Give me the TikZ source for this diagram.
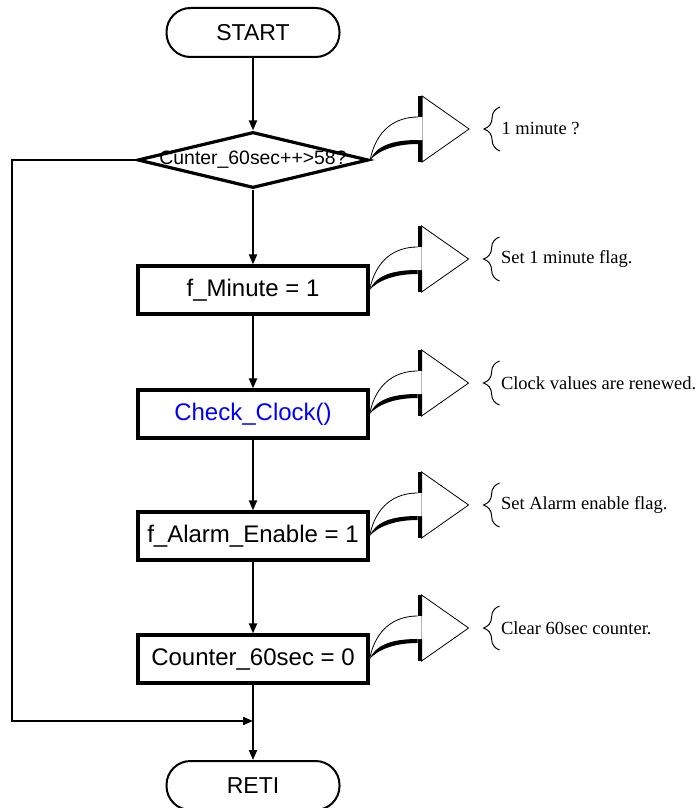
\documentclass[tikz,border=0pt]{standalone}
\usepackage{fontspec}
\setmainfont{Liberation Serif}
\newfontfamily\boxfont{Liberation Sans}
\usetikzlibrary{shapes.geometric}
\usetikzlibrary{decorations.pathreplacing}
\usetikzlibrary{arrows.meta}

% bent 3D arrow from a box edge to a braced comment
\newcommand{\bentarrow}[3]{%
  \begin{scope}[shift={(#1)}]
    \fill[black] (48,-64) rectangle (52,-43);
    \fill[black] (48,-20) rectangle (52,2);
    \draw[line width=0.4pt,fill=white] (52,-43) -- (52,-64) -- (99,-31) -- (52,2) -- (52,-20);
    \fill[white] (0,0) .. controls (6,-30) and (25,-43) .. (52,-43) -- (52,-20) -- (48,-20) .. controls (22,-20) and (6,-14) .. (0,0);
    \draw[line width=0.4pt] (0,0) .. controls (6,-30) and (25,-43) .. (48,-43);
    \draw[line width=0.3pt,gray!60] (52,-43) -- (52,-20);
    \fill[black] (0,0) .. controls (6,-14) and (22,-20) .. (48,-20) -- (48,-16) .. controls (24,-16) and (8,-9) .. (0,0) -- cycle;
    \draw[line width=0.5pt, decorate, decoration={brace,amplitude=8pt}] (130,-9) -- (130,-53);
    \node[note] (#2) at (131,-31) {#3};
  \end{scope}
}

\begin{document}
\begin{tikzpicture}[x=0.5pt,y=-0.5pt,
    term/.style={draw, line width=1pt, rectangle, rounded corners=12pt, minimum width=86.5pt, minimum height=24.5pt, font=\boxfont\fontsize{11.5}{13}\selectfont},
    proc/.style={draw, line width=1.6pt, rectangle, minimum width=115pt, minimum height=24pt, inner xsep=2pt, font=\boxfont\fontsize{12}{14}\selectfont},
    decision/.style={draw, line width=1.6pt, diamond, minimum width=115.5pt, minimum height=28pt, inner sep=0pt},
    note/.style={anchor=west, inner sep=0pt, font=\fontsize{9.25}{11}\selectfont},
    flow/.style={line width=1pt, -{Triangle[length=5pt,width=4pt]}}]

      \useasboundingbox (0,0) rectangle (699,808);

      \node[term] (start) at (253,32.5) {START};
      \node[decision, label={[font=\boxfont\fontsize{9.7}{11}\selectfont]center:Cunter\_60sec++>58?}] (test) at (253,160) {};
      \node[proc] (minute) at (253,290) {f\_Minute = 1};
      \node[proc, text=blue] (clock) at (253,414) {Check\_Clock()};
      \node[proc] (alarm) at (253,536) {f\_Alarm\_Enable = 1};
      \node[proc] (count) at (253,659) {Counter\_60sec = 0};
      \node[term] (reti) at (253,785.5) {RETI};

      \coordinate (join) at (253,721);
      \coordinate (corner) at (12,721);

      \draw[flow] (start) -- (test);
      \draw[flow] (test) -- (minute);
      \draw[flow] (minute) -- (clock);
      \draw[flow] (clock) -- (alarm);
      \draw[flow] (alarm) -- (count);
      \draw[flow] (count) -- (reti);
      \draw[flow] (test.west) -| (corner) -- (join);

      \bentarrow{test.east}{note1}{1 minute ?}
      \bentarrow{minute.east}{note2}{Set 1 minute flag.}
      \bentarrow{clock.east}{note3}{Clock values are renewed.}
      \bentarrow{alarm.east}{note4}{Set Alarm enable flag.}
      \bentarrow{count.east}{note5}{Clear 60sec counter.}

    \end{tikzpicture}
\end{document}
